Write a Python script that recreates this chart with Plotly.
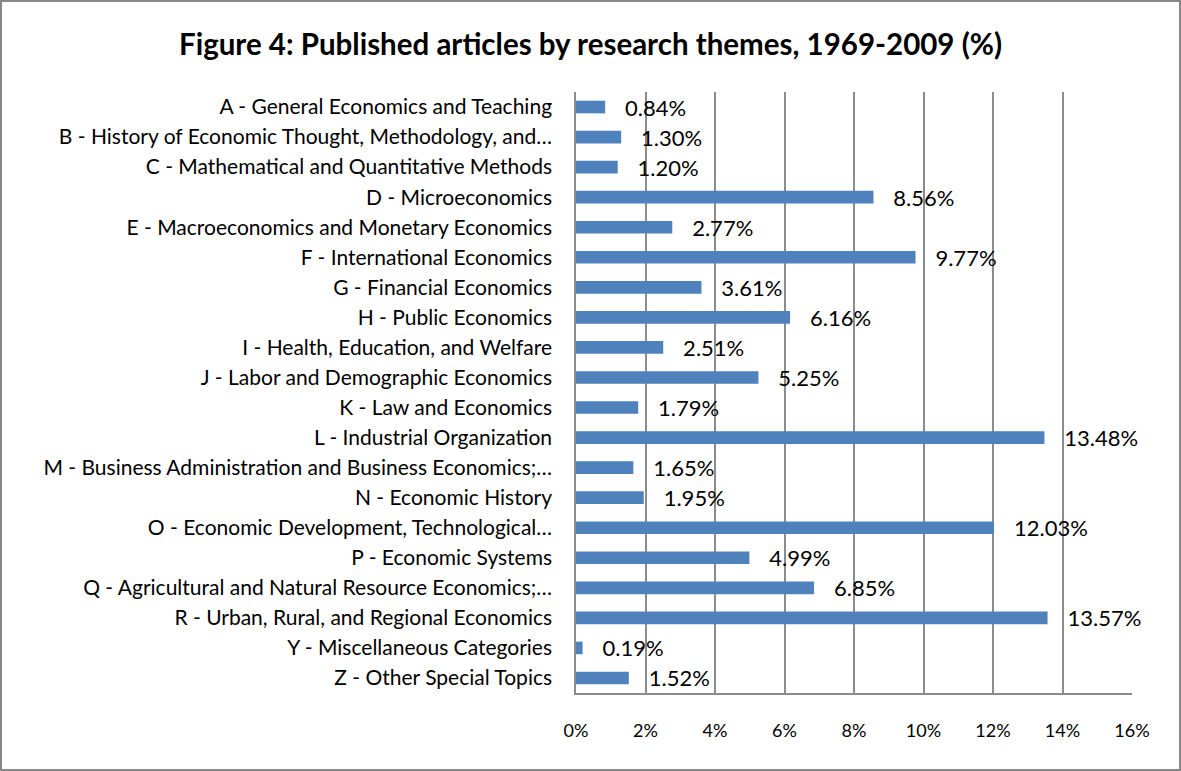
import plotly.graph_objects as go

categories = [
    "A - General Economics and Teaching",
    "B - History of Economic Thought, Methodology, and…",
    "C - Mathematical and Quantitative Methods",
    "D - Microeconomics",
    "E - Macroeconomics and Monetary Economics",
    "F - International Economics",
    "G - Financial Economics",
    "H - Public Economics",
    "I - Health, Education, and Welfare",
    "J - Labor and Demographic Economics",
    "K - Law and Economics",
    "L - Industrial Organization",
    "M - Business Administration and Business Economics;…",
    "N - Economic History",
    "O - Economic Development, Technological…",
    "P - Economic Systems",
    "Q - Agricultural and Natural Resource Economics;…",
    "R - Urban, Rural, and Regional Economics",
    "Y - Miscellaneous Categories",
    "Z - Other Special Topics",
]
values = [0.84, 1.30, 1.20, 8.56, 2.77, 9.77, 3.61, 6.16, 2.51, 5.25,
          1.79, 13.48, 1.65, 1.95, 12.03, 4.99, 6.85, 13.57, 0.19, 1.52]
tick_vals = [0, 2, 4, 6, 8, 10, 12, 14, 16]
tick_text = ["0%", "2%", "4%", "6%", "8%", "10%", "12%", "14%", "16%"]
title = "Figure 4: Published articles by research themes, 1969-2009 (%)"

W, H = 1181, 771
ML, MR, MT, MB = 576, 49, 92, 78
FONT = "Lato, 'Open Sans', sans-serif"

fig = go.Figure(go.Bar(
    x=values, y=categories, orientation="h",
    marker=dict(color="#4F81BD", line=dict(width=0)),
    text=["   %.2f%%" % v for v in values],
    textposition="outside",
    constraintext="none",
    textfont=dict(size=22, color="#000000", family=FONT),
    cliponaxis=False,
))

pw = W - ML - MR
ph = H - MT - MB
fig.add_shape(type="rect", xref="paper", yref="paper",
              x0=-ML / pw + 1 / pw, x1=1 + MR / pw - 1 / pw,
              y0=-MB / ph + 1 / ph, y1=1 + MT / ph - 1 / ph,
              line=dict(color="#888888", width=2), layer="below")

fig.update_layout(
    width=W, height=H,
    margin=dict(l=ML, r=MR, t=MT, b=MB, pad=0),
    paper_bgcolor="white", plot_bgcolor="white",
    bargap=0.58,
    showlegend=False,
    title=dict(text="<b>" + title + "</b>", x=0.5, xref="container", xanchor="center",
               y=1 - 45 / H, yref="container", yanchor="middle",
               font=dict(size=29.5, family=FONT, color="#000000")),
    font=dict(family=FONT, color="#000000"),
    xaxis=dict(range=[0, 16], tickvals=tick_vals, ticktext=tick_text,
               showgrid=True, gridcolor="#8c8c8c", gridwidth=1.5,
               showline=True, linecolor="#8c8c8c", linewidth=1.5,
               zeroline=False, ticks="outside", ticklen=21, tickcolor="rgba(0,0,0,0)",
               tickfont=dict(size=18, family=FONT, color="#000000"),
               mirror=False, fixedrange=True),
    yaxis=dict(autorange="reversed", showgrid=False,
               showline=True, linecolor="#8c8c8c", linewidth=1.5,
               ticks="outside", ticklen=18, tickcolor="rgba(0,0,0,0)",
               tickfont=dict(size=21, family=FONT, color="#000000")),
)

fig.write_html("out.html", config={"displayModeBar": False},
               post_script="document.body.style.margin='0';document.body.style.overflow='hidden';")
